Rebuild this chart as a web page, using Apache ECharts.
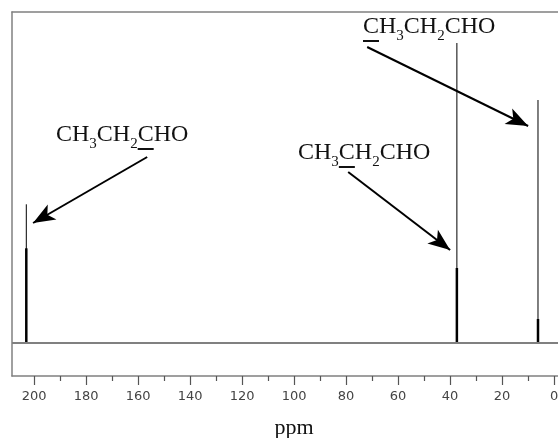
<!DOCTYPE html>
<html>
<head>
<meta charset="utf-8">
<script src="https://cdn.jsdelivr.net/npm/echarts@6/dist/echarts.min.js"></script>
<style>
  html, body { margin: 0; padding: 0; background: #fff; overflow: hidden; width: 558px; height: 438px; }
  #chart { width: 600px; height: 438px; }
</style>
</head>
<body>
<div id="chart"></div>
<script>
// 13C NMR of propanal
var peakShift = [203.0, 37.4, 6.2];      // ppm
var tallHeight = [138.7, 300, 243];      // thin line
var peakHeight = [94.7, 75, 24];         // thick peak
var majorTicks = [0, 20, 40, 60, 80, 100, 120, 140, 160, 180, 200];
var minorTicks = [10, 30, 50, 70, 90, 110, 130, 150, 170, 190];
var xMin = -3.8, xMax = 208.5;
var yMin = -33, yMax = 331;

// annotation: which C is underlined, label top-left (px), arrow from -> to (ppm, intensity)
var labelUnder = [2, 1, 0];
var labelPos = [[56, 123], [298, 141], [363, 15]];
var arrowFrom = [[156.5, 186], [79.2, 171], [71.9, 296]];
var arrowTo = [[200.4, 120], [40.0, 93], [10.0, 217]];

var serif = '"Liberation Serif", "Times New Roman", serif';
var bigSize = 24, subSize = 15;
var frame = { color: '#808080', width: 1.5 };

var myChart = echarts.init(document.getElementById('chart'), null, { renderer: 'canvas' });

function vline(width) {
    return function (params, api) {
        var p0 = api.coord([api.value(0), 0]);
        var p1 = api.coord([api.value(0), api.value(1)]);
        return {
            type: 'line',
            shape: { x1: p0[0], y1: p0[1], x2: p1[0], y2: p1[1] },
            style: { stroke: '#000', lineWidth: width }
        };
    };
}

var arrows = arrowFrom.map(function (f, i) {
    return [
        { coord: f, symbol: 'none' },
        { coord: arrowTo[i], symbol: 'arrow', symbolSize: [13, 22] }
    ];
});

// text widths for underline placement
var ctx = document.createElement('canvas').getContext('2d');
ctx.font = bigSize + 'px ' + serif;
var wC = ctx.measureText('C').width, wCH = ctx.measureText('CH').width;
ctx.font = subSize + 'px ' + serif;
var wSub = ctx.measureText('3').width;
var cOffset = [0, wCH + wSub, 2 * (wCH + wSub)];

var graphics = [];
labelPos.forEach(function (p, i) {
    graphics.push({
        type: 'text',
        x: p[0], y: p[1],
        style: {
            text: '{m|CH}{s|3}{m|CH}{s|2}{m|CHO}',
            verticalAlign: 'top',
            fill: '#111',
            rich: {
                m: { fontFamily: serif, fontSize: bigSize, lineHeight: 24, verticalAlign: 'top', color: '#111' },
                s: { fontFamily: serif, fontSize: subSize, lineHeight: 15, verticalAlign: 'top', padding: [14, 0, 0, 0], color: '#111' }
            }
        }
    });
    var ux = p[0] + cOffset[labelUnder[i]];
    graphics.push({
        type: 'line',
        shape: { x1: ux, y1: p[1] + 26, x2: ux + wC, y2: p[1] + 26 },
        style: { stroke: '#111', lineWidth: 2 }
    });
});

option = {
    animation: false,
    grid: {
        left: 12, top: 12, width: 552, bottom: 62,
        outerBoundsMode: 'none',
        containLabel: false,
        show: false
    },
    xAxis: [
        {
            type: 'value',
            min: xMin, max: xMax,
            inverse: true,
            name: 'ppm',
            nameLocation: 'middle',
            nameGap: 41,
            nameTextStyle: { fontFamily: serif, fontSize: 22, color: '#111', padding: [0, 0, 0, 12] },
            splitLine: { show: false },
            axisLine: { onZero: false, lineStyle: frame },
            axisTick: { customValues: majorTicks, length: 9, lineStyle: { color: '#555', width: 1.2 } },
            axisLabel: {
                customValues: majorTicks,
                margin: 14,
                fontFamily: '"DejaVu Sans", Verdana, sans-serif',
                fontSize: 13,
                color: '#444'
            }
        },
        {
            type: 'value',
            min: xMin, max: xMax,
            inverse: true,
            position: 'bottom',
            splitLine: { show: false },
            axisLine: { show: false, onZero: false },
            axisTick: { customValues: minorTicks, length: 5, lineStyle: { color: '#555', width: 1.2 } },
            axisLabel: { show: false }
        },
        {
            type: 'value',
            min: xMin, max: xMax,
            inverse: true,
            position: 'top',
            splitLine: { show: false },
            axisLine: { onZero: false, lineStyle: frame },
            axisTick: { show: false },
            axisLabel: { show: false }
        }
    ],
    yAxis: {
        type: 'value',
        min: yMin, max: yMax,
        splitLine: { show: false },
        axisLine: { show: true, onZero: false, lineStyle: frame },
        axisTick: { show: false },
        axisLabel: { show: false }
    },
    series: [
        {
            name: 'baseline',
            type: 'line',
            data: [[xMin, 0], [xMax, 0]],
            symbol: 'none',
            lineStyle: { color: '#808080', width: 2 },
            silent: true,
            markLine: {
                silent: true,
                animation: false,
                label: { show: false },
                lineStyle: { color: '#000', width: 2, type: 'solid' },
                data: arrows
            }
        },
        {
            name: 'tall',
            type: 'custom',
            renderItem: vline(1),
            data: peakShift.map(function (x, i) { return [x, tallHeight[i]]; })
        },
        {
            name: 'peak',
            type: 'custom',
            renderItem: vline(2.5),
            data: peakShift.map(function (x, i) { return [x, peakHeight[i]]; })
        }
    ],
    graphic: graphics
};

myChart.setOption(option);
</script>
</body>
</html>
